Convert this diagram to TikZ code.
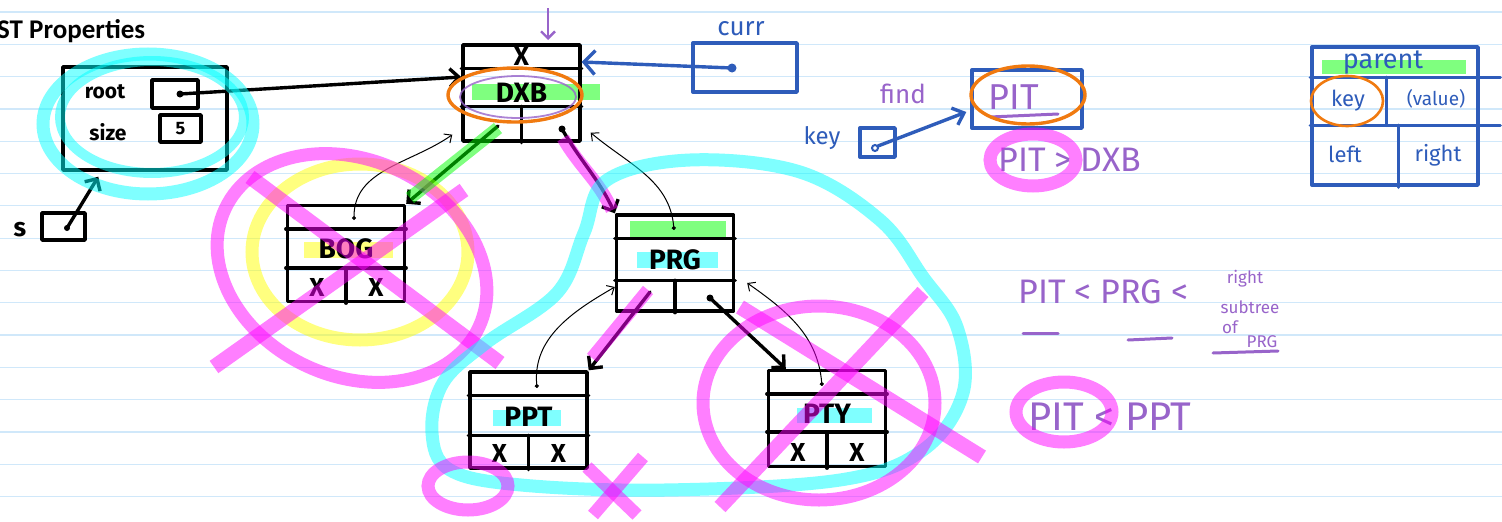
\documentclass[tikz,border=0pt]{standalone}
\usepackage{fontspec}
\setmainfont{Carlito}
\newfontfamily\hand{Fira Sans}
\usepackage{tikz}
\usetikzlibrary{arrows.meta, positioning, calc}

\definecolor{ink}{RGB}{46,92,186}
\definecolor{plum}{RGB}{152,100,202}
\definecolor{orng}{RGB}{240,122,16}
\definecolor{rulecol}{RGB}{208,232,250}
\definecolor{hlcyan}{RGB}{0,255,255}
\definecolor{hlmag}{RGB}{255,0,255}
\definecolor{hlyel}{RGB}{255,255,0}
\definecolor{hlgreen}{RGB}{0,255,0}

\begin{document}
\begin{tikzpicture}[
    x=1pt, y=-1pt,
    rule/.style={draw=rulecol, line width=1.2pt},
    pen/.style={line width=3.4pt, line cap=round, line join=round},
    rec/.style={draw, pen, minimum width=117pt, minimum height=96pt, inner sep=0pt},
    smallbox/.style={draw, pen, inner sep=0pt},
    keytxt/.style={font=\hand\bfseries\fontsize{28}{28}\selectfont},
    xmark/.style={font=\hand\bfseries\fontsize{26}{26}\selectfont},
    blacktxt/.style={font=\hand\bfseries\fontsize{21}{21}\selectfont},
    bluetxt/.style={text=ink, font=\hand\fontsize{22}{22}\selectfont},
    purptxt/.style={text=plum, font=\hand\fontsize{34}{34}\selectfont},
    hl/.style={line width=13pt, draw opacity=0.5},
    barb/.style={-{Straight Barb[length=9pt, width=18pt]}},
    parentptr/.style={{Circle[length=4pt]}-{Straight Barb[length=6pt, width=11pt]}, line width=1pt}
]
\useasboundingbox (0,0) rectangle (1502,522);
\fill[white] (0,0) rectangle (1502,522);

% ruled paper
\foreach \k in {0,...,15}
    \draw[rule] (0,12+32.3*\k) -- (1502,12+32.3*\k);

% highlighted key fields
\draw[hl, hlgreen, line width=16pt] (472,92) -- (600,92);
\draw[hl, hlyel, line width=16pt] (304,250) -- (393,250);
\draw[hl, hlgreen, line width=17pt] (630,229) -- (726,229);
\draw[hl, hlcyan, line width=16pt] (637,260) -- (718,260);
\draw[hl, hlcyan, line width=16pt] (493,418) -- (561,418);
\draw[hl, hlcyan, line width=15pt] (797,415) -- (872,415);
\draw[hl, hlgreen, line width=14pt] (1322,67) -- (1466,67);

\node[anchor=base west, inner sep=0pt, font=\bfseries\fontsize{27}{27}\selectfont] (title) at (-3,38) {ST Properties};

% BST object s
\node[draw, pen, minimum width=164pt, minimum height=103pt] (sobj) at (145,118.5) {};
\node[blacktxt] (roottxt) at (105,92) {root};
\node[smallbox, minimum width=46pt, minimum height=28pt] (rootbox) at (175,94) {};
\coordinate (rootp) at (180,94);
\fill (rootp) circle (3.5pt);
\node[blacktxt] (sizetxt) at (108,132) {size};
\node[smallbox, minimum width=41pt, minimum height=27pt, font=\hand\bfseries\fontsize{18}{18}\selectfont] (sizebox) at (180.5,128.5) {5};
\node[font=\hand\bfseries\fontsize{26}{26}\selectfont] (stxt) at (20,230) {s};
\node[smallbox, minimum width=43pt, minimum height=27pt] (sbox) at (63.5,226.5) {};
\coordinate (sp) at (67,228);
\fill (sp) circle (3pt);

% tree nodes
\node[rec] (dxb) at (521.5,93) {};
\node[rec] (bog) at (346,253.5) {};
\node[rec] (prg) at (675,263) {};
\node[rec] (ppt) at (528.5,420) {};
\node[rec] (pty) at (827,418.5) {};

\draw[pen] ([yshift=-25pt]dxb.north west) -- ([yshift=-25pt]dxb.north east);
\draw[pen] ([yshift=-63pt]dxb.north west) -- ([yshift=-63pt]dxb.north east);
\draw[pen] ([yshift=-63pt]dxb.north) -- (dxb.south);
\draw[pen] ([yshift=-25pt]bog.north west) -- ([yshift=-25pt]bog.north east);
\draw[pen] ([yshift=-64pt]bog.north west) -- ([yshift=-64pt]bog.north east);
\draw[pen] ([yshift=-64pt]bog.north) -- (bog.south);
\draw[pen] ([yshift=-25pt]prg.north west) -- ([yshift=-25pt]prg.north east);
\draw[pen] ([yshift=-67pt]prg.north west) -- ([yshift=-67pt]prg.north east);
\draw[pen] ([yshift=-67pt]prg.north) -- (prg.south);
\draw[pen] ([yshift=-25pt]ppt.north west) -- ([yshift=-25pt]ppt.north east);
\draw[pen] ([yshift=-65pt]ppt.north west) -- ([yshift=-65pt]ppt.north east);
\draw[pen] ([yshift=-65pt]ppt.north) -- (ppt.south);
\draw[pen] ([yshift=-25pt]pty.north west) -- ([yshift=-25pt]pty.north east);
\draw[pen] ([yshift=-63pt]pty.north west) -- ([yshift=-63pt]pty.north east);
\draw[pen] ([yshift=-63pt]pty.north) -- (pty.south);

\node[keytxt] (dxbkey) at ([yshift=-49pt]dxb.north) {DXB};
\node[keytxt] (bogkey) at ([yshift=-45pt]bog.north) {BOG};
\node[keytxt] (prgkey) at ([yshift=-46pt]prg.north) {PRG};
\node[keytxt] (pptkey) at ([yshift=-46pt]ppt.north) {PPT};
\node[keytxt] (ptykey) at ([yshift=-45pt]pty.north) {PTY};

\node[xmark] (dxbx) at ([yshift=-13pt]dxb.north) {X};
\node[xmark] (bogxl) at ([xshift=-29pt, yshift=16pt]bog.south) {X};
\node[xmark] (bogxr) at ([xshift=30pt, yshift=16pt]bog.south) {X};
\node[xmark] (pptxl) at ([xshift=-29pt, yshift=16pt]ppt.south) {X};
\node[xmark] (pptxr) at ([xshift=30pt, yshift=16pt]ppt.south) {X};
\node[xmark] (ptyxl) at ([xshift=-29pt, yshift=16pt]pty.south) {X};
\node[xmark] (ptyxr) at ([xshift=30pt, yshift=16pt]pty.south) {X};

% child pointers
\coordinate (dxbl) at (498,126);
\coordinate (dxbr) at (562,129);
\coordinate (prgl) at (650,292);
\coordinate (prgr) at (710,298);
\fill (dxbr) circle (3.5pt);
\fill (prgr) circle (3.5pt);
\draw[pen, barb] (rootp) -- ([yshift=16pt]dxb.west);
\draw[pen, barb] (sp) -- ([xshift=37pt, yshift=-5pt]sobj.south west);
\draw[pen, barb] (dxbl) -- (bog.north east);
\draw[pen, barb] (dxbr) to[out=-60, in=115] (prg.north west);
\draw[pen, barb] (prgl) -- (ppt.north east);
\draw[pen, barb] (prgr) -- ([xshift=19pt]pty.north west);

% parent pointers
\coordinate (bogp) at (354,220);
\coordinate (prgp) at (674,230);
\coordinate (pptp) at (537,388);
\coordinate (ptyp) at (822,386);
\draw[parentptr] (bogp) to[out=90, in=-145] ([xshift=-9pt, yshift=8pt]dxb.south west);
\draw[parentptr] (prgp) to[out=95, in=-40] ([xshift=9pt, yshift=10pt]dxb.south east);
\draw[parentptr] (pptp) to[out=95, in=-150] ([yshift=-24pt]prg.west);
\draw[parentptr] (ptyp) to[out=95, in=-35] ([xshift=12pt, yshift=-20pt]prg.east);

% curr
\node[text=ink, font=\hand\fontsize{26}{26}\selectfont] (currtxt) at (741,29) {curr};
\node[draw=ink, pen, minimum width=104pt, minimum height=49pt] (currbox) at (745,67.5) {};
\coordinate (currp) at (732,68);
\fill[ink] (currp) circle (4.5pt);
\draw[ink, pen, -{Straight Barb[length=11pt, width=24pt]}] (currp) -- ([yshift=31pt]dxb.east);
\draw[plum, line width=2.4pt, -{Straight Barb[length=7pt, width=14pt]}] (548,8) -- (548,40);

% find key
\node[text=plum, font=\hand\fontsize{26}{26}\selectfont] (findtxt) at (903,94) {find};
\node[bluetxt, font=\hand\fontsize{24}{24}\selectfont] (keytxt) at (822,138) {key};
\node[draw=ink, pen, minimum width=35pt, minimum height=29pt] (keybox) at (877.5,142.5) {};
\coordinate (keyp) at (875,148);
\draw[ink, line width=2pt] (keyp) circle (3pt);
\node[draw=ink, pen, minimum width=110pt, minimum height=58pt] (pit) at (1027,99) {};
\node[purptxt, font=\hand\fontsize{36}{36}\selectfont] (pittxt) at (1014,97) {PIT};
\draw[plum, line width=3pt, line cap=round] (990,117) -- (1058,114);
\draw[ink, pen, -{Straight Barb[length=10pt, width=18pt]}] ([xshift=3pt, yshift=2pt]keyp) -- ([xshift=-4pt, yshift=-13pt]pit.west);
\draw[orng, line width=3.4pt] (1028,95) ellipse [x radius=57pt, y radius=29pt];
\node[purptxt, anchor=west] (cmp1) at (995,160) {PIT > DXB};

% node layout legend
\node[draw=ink, pen, minimum width=166pt, minimum height=138pt] (tbl) at (1395,116) {};
\draw[ink, pen] ([yshift=-32pt]tbl.north west) -- ++(190,0);
\draw[ink, pen] ([yshift=-80pt]tbl.north west) -- ++(190,0);
\draw[ink, pen] ([xshift=76pt, yshift=-32pt]tbl.north west) -- ++(0,48);
\draw[ink, pen] ([xshift=88pt, yshift=-80pt]tbl.north west) -- ++(0,62);
\node[bluetxt, font=\hand\fontsize{27}{27}\selectfont] (partxt) at (1383,63) {parent};
\node[bluetxt] (tkey) at (1348,101) {key};
\node[bluetxt, font=\hand\fontsize{19}{19}\selectfont] (tval) at (1436,99) {(value)};
\node[bluetxt] (tleft) at (1345,154) {left};
\node[bluetxt] (tright) at (1438,155) {right};
\draw[orng, line width=2.6pt] (1347,101) ellipse [x radius=36pt, y radius=25pt];

% comparisons
\node[purptxt, anchor=west] (cmp2) at (1015,292) {PIT < PRG <};
\node[text=plum, font=\hand\fontsize{17}{17}\selectfont] (rt1) at (1245,279) {right};
\node[text=plum, font=\hand\fontsize{17}{17}\selectfont] (rt2) at (1250,307) {subtree};
\node[text=plum, font=\hand\fontsize{17}{17}\selectfont] (rt3) at (1230,327) {of};
\node[text=plum, font=\hand\fontsize{17}{17}\selectfont] (rt4) at (1262,342) {PRG};
\draw[plum, line width=3pt, line cap=round] (1023,333) -- (1058,333);
\draw[plum, line width=3pt, line cap=round] (1128,340) -- (1172,338);
\draw[plum, line width=3pt, line cap=round] (1213,353) -- (1278,351);
\node[purptxt, font=\hand\fontsize{40}{40}\selectfont, anchor=west] (cmp3) at (1025,417) {PIT < PPT};

% highlighter marks
\draw[hl, hlcyan] (148,124) ellipse [x radius=105pt, y radius=70pt];
\draw[hl, hlcyan, line width=10pt] (152,117) ellipse [x radius=92pt, y radius=56pt];
\draw[hl, hlyel] (360,252) ellipse [x radius=108pt, y radius=88pt];
\draw[hl, hlmag, rotate around={-25:(352,268)}] (352,268) ellipse [x radius=140pt, y radius=108pt];
\draw[hl, hlmag, line width=15pt] (250,177) -- (500,363);
\draw[hl, hlmag, line width=15pt] (214,367) -- (464,190);
\draw[hl, hlgreen] (498,128) -- (410,198);
\draw[hl, hlmag] (563,138) to[out=-60, in=115] (612,210);
\draw[hl, hlmag] (648,290) -- (592,358);
\draw[hl, hlcyan] plot[smooth cycle, tension=0.6] coordinates {(607,180) (584,233) (557,293) (486,343) (443,383) (432,433) (450,470) (521,485) (664,490) (840,480) (923,450) (963,393) (957,327) (923,277) (880,220) (800,172) (690,160)};
\draw[hl, hlmag] (819,403) ellipse [x radius=116pt, y radius=97pt];
\draw[hl, hlmag, line width=15pt] (720,507) -- (923,292);
\draw[hl, hlmag, line width=15pt] (740,307) -- (982,457);
\draw[hl, hlmag] (468,486) ellipse [x radius=40pt, y radius=24pt];
\draw[hl, hlmag] (587,467) -- (637,515);
\draw[hl, hlmag] (643,457) -- (593,515);
\draw[hl, hlmag] (1033,160) ellipse [x radius=43pt, y radius=26pt];
\draw[hl, hlmag] (1064,412) ellipse [x radius=48pt, y radius=30pt];

% ring round DXB
\draw[orng, line width=3.4pt] (515,95) ellipse [x radius=67pt, y radius=27pt];
\draw[plum, line width=1.8pt, draw opacity=0.8] (518,97) ellipse [x radius=58pt, y radius=21pt];

\end{tikzpicture}
\end{document}
